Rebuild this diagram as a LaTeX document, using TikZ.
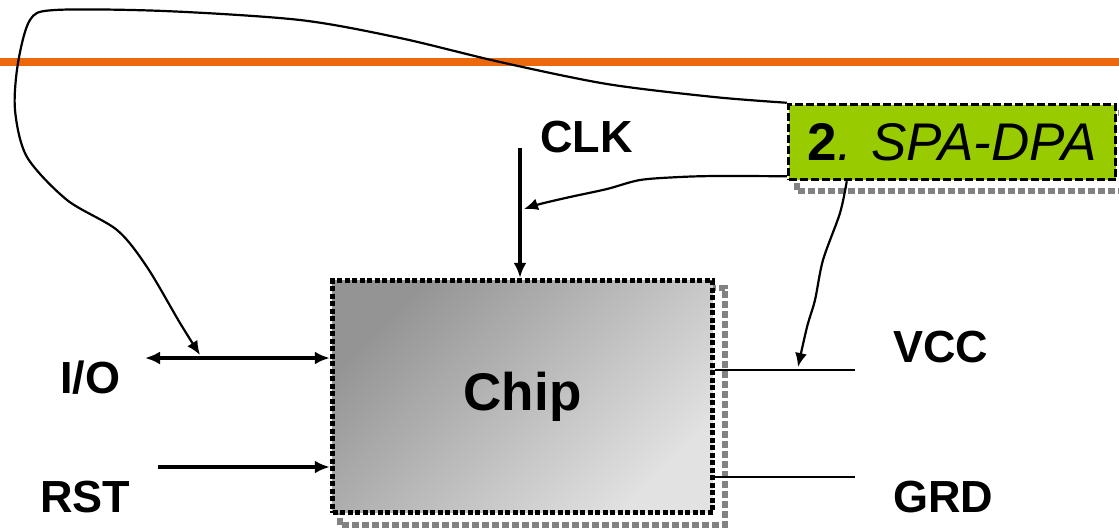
\documentclass[tikz,border=0pt]{standalone}
\usepackage{fontspec}
\setmainfont{Liberation Sans}
\usetikzlibrary{arrows.meta,positioning,calc,backgrounds}
\definecolor{naranja}{RGB}{236,104,12}
\definecolor{verde}{RGB}{153,204,0}
\definecolor{grisOscuro}{RGB}{148,148,148}
\definecolor{grisClaro}{RGB}{226,226,226}
\definecolor{sombra}{RGB}{130,130,130}
\tikzset{
  etiqueta/.style={anchor=base west,inner sep=0pt,font=\fontsize{45}{50}\selectfont\bfseries},
  sombraborde/.style={draw=sombra,line width=6pt,dash pattern=on 7pt off 3pt},
  senal/.style={line width=3.5pt},
  cable/.style={line width=2pt},
  traza/.style={line width=2.2pt,-{Latex[length=14pt,width=12pt]}},
}

\begin{document}
\begin{tikzpicture}[x=1pt,y=-1pt,>={Latex[length=15pt,width=13pt]}]
        \useasboundingbox (0,0) rectangle (1119,531);
        \draw[naranja,line width=8pt] (0,62) -- (1119,62);
        % bloques
        \node[draw,line width=5.5pt,dash pattern=on 5pt off 2.5pt,minimum width=380pt,minimum height=232pt,
              top color=grisOscuro,bottom color=grisClaro,shading angle=45,
              font=\fontsize{53}{60}\selectfont\bfseries] (chip) at (522.5,396.5) {Chip};
        \node[draw,line width=3.5pt,dash pattern=on 8pt off 3pt,fill=verde,minimum width=327pt,minimum height=75pt,
              font=\fontsize{53}{60}\selectfont] (spa) at (952,142) {\textbf{2}\textit{. SPA-DPA}};
        \begin{scope}[on background layer]
          \draw[sombraborde] ([shift={(10,10)}]chip.north west) rectangle ([shift={(10,10)}]chip.south east);
          \draw[sombraborde] ([shift={(10,10)}]spa.north west) rectangle ([shift={(10,10)}]spa.south east);
        \end{scope}
        % etiquetas
        \node[etiqueta] (clk) at (540,152) {CLK};
        \node[etiqueta] (io) at (60,393) {I/O};
        \node[etiqueta] (rst) at (40,512) {RST};
        \node[etiqueta] (vcc) at (893,362) {VCC};
        \node[etiqueta] (grd) at (893,512) {GRD};
        % senales
        \coordinate (clkin) at (520,148);
        \coordinate (iofin) at (145,358);
        \coordinate (rstini) at (158,467);
        \coordinate (vccfin) at (855,370);
        \coordinate (grdfin) at (855,477);
        \draw[senal,->] (clkin) -- (clkin |- chip.north);
        \draw[senal,<->] (iofin) -- (iofin -| chip.west);
        \draw[senal,->] (rstini) -- (rstini -| chip.west);
        \draw[cable] (vccfin -| chip.east) -- (vccfin);
        \draw[cable] (grdfin -| chip.east) -- (grdfin);
        % ataques
        \coordinate (iojoin) at (200,355);
        \coordinate (clkjoin) at (524,209);
        \coordinate (vccjoin) at (798,367);
        \draw[traza] plot[smooth] coordinates {(spa.north west) (714,97) (607,84) (500,62) (400,38) (300,20)
              (164,11) (55,10) (30,20) (18,63) (15,110) (27,157) (67,200) (117,230) (147,267) (180,323) (iojoin)};
        \draw[traza] plot[smooth] coordinates {($(spa.south west)+(0,-5)$) (717,176) (680,177) (640,180)
              (607,189) (570,197) (540,204) (clkjoin)};
        \draw[traza] plot[smooth] coordinates {($(spa.south west)+(60,0)$) (840,213) (823,260) (815,300)
              (807,327) (vccjoin)};
\end{tikzpicture}
\end{document}
